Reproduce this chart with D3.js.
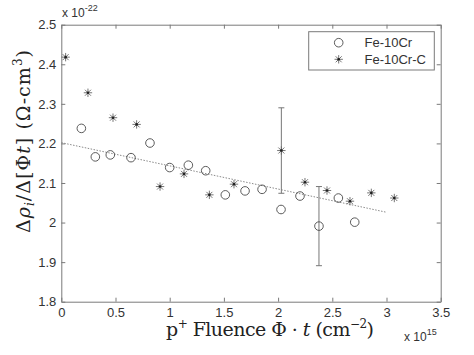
<!DOCTYPE html>
<html>
<head>
<meta charset="utf-8">
<script src="https://cdn.jsdelivr.net/npm/d3@7"></script>
<style>
  html, body { margin: 0; padding: 0; background: #fff; }
  svg { display: block; }
</style>
</head>
<body>
<svg id="chart" width="474" height="355"></svg>
<script>
// ---- data (x in units of 1e15 cm^-2, y in units of 1e-22 Ohm-cm^3) ----
const circleX = [0.185, 0.314, 0.452, 0.643, 0.818, 1.00, 1.172, 1.332, 1.513, 1.695, 1.852, 2.027, 2.202, 2.377, 2.556, 2.707];
const circleY = [2.238, 2.166, 2.171, 2.164, 2.201, 2.139, 2.145, 2.131, 2.070, 2.080, 2.084, 2.033, 2.067, 1.991, 2.062, 2.001];
const starX = [0.04, 0.246, 0.477, 0.695, 0.911, 1.132, 1.366, 1.593, 2.030, 2.248, 2.451, 2.663, 2.860, 3.072];
const starY = [2.418, 2.328, 2.265, 2.248, 2.091, 2.123, 2.070, 2.097, 2.182, 2.102, 2.081, 2.054, 2.075, 2.062];
const errX = [2.030, 2.377];
const errY = [2.182, 1.991];
const errD = [0.108, 0.100];
const fitX = [0, 3.0];
const fitY = [2.202, 2.026];
const xTicks = [0, 0.5, 1, 1.5, 2, 2.5, 3, 3.5];
const yTicks = [1.8, 1.9, 2.0, 2.1, 2.2, 2.3, 2.4, 2.5];
const seriesNames = ["Fe-10Cr", "Fe-10Cr-C"];

const svg = d3.select("#chart");
const L = 61.3, R = 440.7, T = 24.7, B = 301.7;
const x = d3.scaleLinear().domain([0, 3.5]).range([L, R]);
const y = d3.scaleLinear().domain([1.8, 2.5]).range([B, T]);

const axisCol = "#7a7a7a";
const textCol = "#333";
const markCol = "#4a4a4a";
const sans = "'Liberation Sans', Arial, sans-serif";
const serif = "'DejaVu Serif', serif";

svg.append("rect").attr("width", 474).attr("height", 355).attr("fill", "#fff");

// axes
const fmt = d => d3.format("~g")(d);
function styleAxis(g, labels) {
  g.selectAll("path.domain").attr("stroke", axisCol).attr("stroke-width", 1);
  g.selectAll(".tick line").attr("stroke", axisCol);
  g.selectAll(".tick text").attr("fill", textCol).attr("font-family", sans).attr("font-size", 13);
  if (!labels) g.selectAll(".tick text").remove();
}
svg.append("g").attr("transform", `translate(0,${B})`)
  .call(d3.axisBottom(x).tickValues(xTicks).tickFormat(fmt).tickSizeInner(-4).tickSizeOuter(0).tickPadding(6))
  .call(g => styleAxis(g, true));
svg.append("g").attr("transform", `translate(0,${T})`)
  .call(d3.axisTop(x).tickValues(xTicks).tickSizeInner(-4).tickSizeOuter(0))
  .call(g => styleAxis(g, false));
svg.append("g").attr("transform", `translate(${L},0)`)
  .call(d3.axisLeft(y).tickValues(yTicks).tickFormat(fmt).tickSizeInner(-4).tickSizeOuter(0).tickPadding(5))
  .call(g => styleAxis(g, true));
svg.append("g").attr("transform", `translate(${R},0)`)
  .call(d3.axisRight(y).tickValues(yTicks).tickSizeInner(-4).tickSizeOuter(0))
  .call(g => styleAxis(g, false));

// exponent labels
const e1 = svg.append("text").attr("x", 62).attr("y", 17).attr("font-family", sans).attr("font-size", 12).attr("fill", textCol);
e1.append("tspan").text("x 10");
e1.append("tspan").attr("font-size", 9).attr("dy", -6).text("-22");
const e2 = svg.append("text").attr("x", 404).attr("y", 341).attr("font-family", sans).attr("font-size", 12).attr("fill", textCol);
e2.append("tspan").text("x 10");
e2.append("tspan").attr("font-size", 9).attr("dy", -6).text("15");

// fit line
svg.append("line")
  .attr("x1", x(fitX[0])).attr("y1", y(fitY[0]))
  .attr("x2", x(fitX[1])).attr("y2", y(fitY[1]))
  .attr("stroke", "#8a8a8a").attr("stroke-width", 1).attr("stroke-dasharray", "1.5,1.5");

// error bars
const eb = svg.append("g").attr("stroke", "#777").attr("stroke-width", 1);
errX.forEach((xv, i) => {
  const top = y(errY[i] + errD[i]), bot = y(errY[i] - errD[i]), cx = x(xv);
  eb.append("line").attr("x1", cx).attr("x2", cx).attr("y1", top).attr("y2", bot);
  eb.append("line").attr("x1", cx - 3).attr("x2", cx + 3).attr("y1", top).attr("y2", top);
  eb.append("line").attr("x1", cx - 3).attr("x2", cx + 3).attr("y1", bot).attr("y2", bot);
});

// markers
const starPath = "M-4.2,0L4.2,0M0,-4.2L0,4.2M-3,-3L3,3M-3,3L3,-3";
function drawCircle(g, cx, cy) {
  g.append("circle").attr("cx", cx).attr("cy", cy).attr("r", 4.3)
    .attr("fill", "none").attr("stroke", markCol).attr("stroke-width", 0.9);
}
function drawStar(g, cx, cy) {
  const s = g.append("g").attr("transform", `translate(${cx},${cy})`);
  s.append("path").attr("d", starPath).attr("stroke", "#666").attr("stroke-width", 0.9).attr("fill", "none");
  s.append("circle").attr("r", 1.3).attr("fill", "#222");
}
const marks = svg.append("g");
circleX.forEach((xv, i) => drawCircle(marks, x(xv), y(circleY[i])));
starX.forEach((xv, i) => drawStar(marks, x(xv), y(starY[i])));

// legend
const lg = svg.append("g");
lg.append("rect").attr("x", 308.7).attr("y", 31.7).attr("width", 125.6).attr("height", 38.3)
  .attr("fill", "#fff").attr("stroke", axisCol).attr("stroke-width", 1);
drawCircle(lg, 338.7, 42.7);
drawStar(lg, 338.7, 59.3);
seriesNames.forEach((n, i) => {
  lg.append("text").attr("x", 364.5).attr("y", [42.7, 59.3][i] + 4.6)
    .attr("font-family", sans).attr("font-size", 13).attr("fill", textCol).text(n);
});

// x label
const xl = svg.append("text").attr("x", 166).attr("y", 336)
  .attr("textLength", 208).attr("lengthAdjust", "spacing")
  .attr("font-family", serif).attr("font-size", 19).attr("fill", "#222");
xl.append("tspan").text("p");
xl.append("tspan").attr("font-size", 12).attr("dy", -8).text("+");
xl.append("tspan").attr("dy", 8).text(" Fluence Φ · ");
xl.append("tspan").attr("font-style", "italic").text("t");
xl.append("tspan").text(" (cm");
xl.append("tspan").attr("font-size", 12).attr("dy", -8).text("−2");
xl.append("tspan").attr("dy", 8).text(")");

// y label
const yl = svg.append("text").attr("transform", "translate(30,233) rotate(-90)")
  .attr("textLength", 183).attr("lengthAdjust", "spacing")
  .attr("font-family", serif).attr("font-size", 19).attr("fill", "#222");
yl.append("tspan").text("Δ");
yl.append("tspan").attr("font-style", "italic").text("ρ");
yl.append("tspan").attr("font-style", "italic").attr("font-size", 12).attr("dy", 4).text("i");
yl.append("tspan").attr("dy", -4).text("/Δ[Φ");
yl.append("tspan").attr("font-style", "italic").text("t");
yl.append("tspan").text("] (Ω-cm");
yl.append("tspan").attr("font-size", 12).attr("dy", -8).text("3");
yl.append("tspan").attr("dy", 8).text(")");
</script>
</body>
</html>
